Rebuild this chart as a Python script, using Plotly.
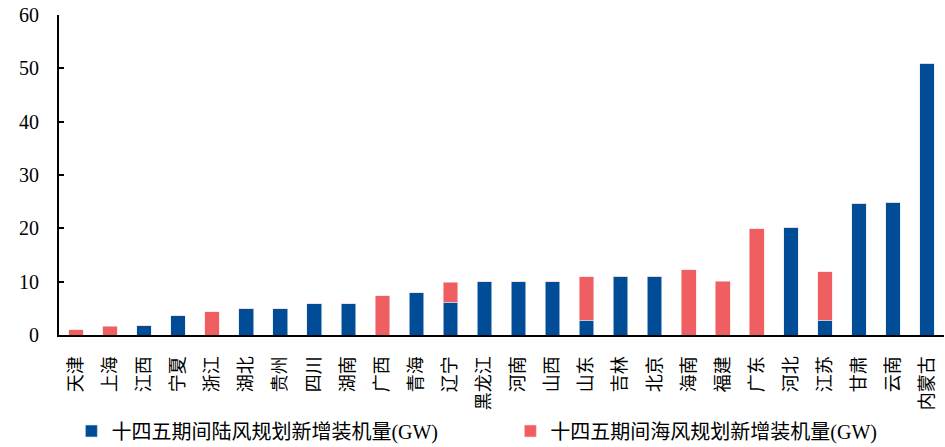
import plotly.graph_objects as go

provinces = ["天津", "上海", "江西", "宁夏", "浙江", "湖北", "贵州", "四川", "湖南",
             "广西", "青海", "辽宁", "黑龙江", "河南", "山西", "山东", "吉林", "北京",
             "海南", "福建", "广东", "河北", "江苏", "甘肃", "云南", "内蒙古"]
onshore = [0, 0, 1.7, 3.6, 0, 4.9, 4.9, 5.9, 5.9, 0, 7.9, 6.1, 10, 10, 10, 2.8, 11, 11,
           0, 0, 0, 20.2, 2.8, 24.7, 24.9, 51]
offshore = [1.0, 1.6, 0, 0, 4.4, 0, 0, 0, 0, 7.4, 0, 3.8, 0, 0, 0, 8.1, 0, 0,
            12.2, 10.1, 19.9, 0, 9.1, 0, 0, 0]

y_ticks = [0, 10, 20, 30, 40, 50, 60]

BLUE = "#004C97"
RED = "#EF5F62"
FONT = "Liberation Serif, Noto Sans CJK SC, serif"
CJK = "Noto Sans CJK SC"

fig = go.Figure()
fig.add_bar(x=provinces, y=onshore, name="十四五期间陆风规划新增装机量(GW)",
            marker=dict(color=BLUE, line=dict(color="#DDE6F2", width=0.6)),
            legend="legend")
fig.add_bar(x=provinces, y=offshore, name="十四五期间海风规划新增装机量(GW)",
            marker=dict(color=RED, line=dict(color="#FBDADA", width=0.6)),
            legend="legend2")

legend_style = dict(orientation="h", y=-0.30, xanchor="left", yanchor="middle",
                    font=dict(family=FONT, size=20, color="black"),
                    itemwidth=30, bgcolor="rgba(0,0,0,0)")

fig.update_layout(
    barmode="stack",
    bargap=0.57,
    width=945, height=447,
    margin=dict(l=59, r=1, t=15, b=112, autoexpand=False),
    plot_bgcolor="white", paper_bgcolor="white",
    font=dict(family=FONT, size=18, color="black"),
    showlegend=True,
    legend=dict(x=0.014, **legend_style),
    legend2=dict(x=0.51, **legend_style),
)
fig.update_xaxes(
    type="category", tickangle=-90, showline=True, linecolor="black", linewidth=2,
    ticks="", tickfont=dict(family=CJK, size=18), showgrid=False,
    ticklabelstandoff=12, automargin=False,
)
fig.update_yaxes(
    range=[0, 60], tickvals=y_ticks, showline=True, linecolor="black", linewidth=2,
    ticks="inside", ticklen=5, tickwidth=2, tickcolor="black", showgrid=False,
    zeroline=False, tickfont=dict(family=FONT, size=20), ticklabelstandoff=14,
    automargin=False,
)

fig.write_html("out.html")
